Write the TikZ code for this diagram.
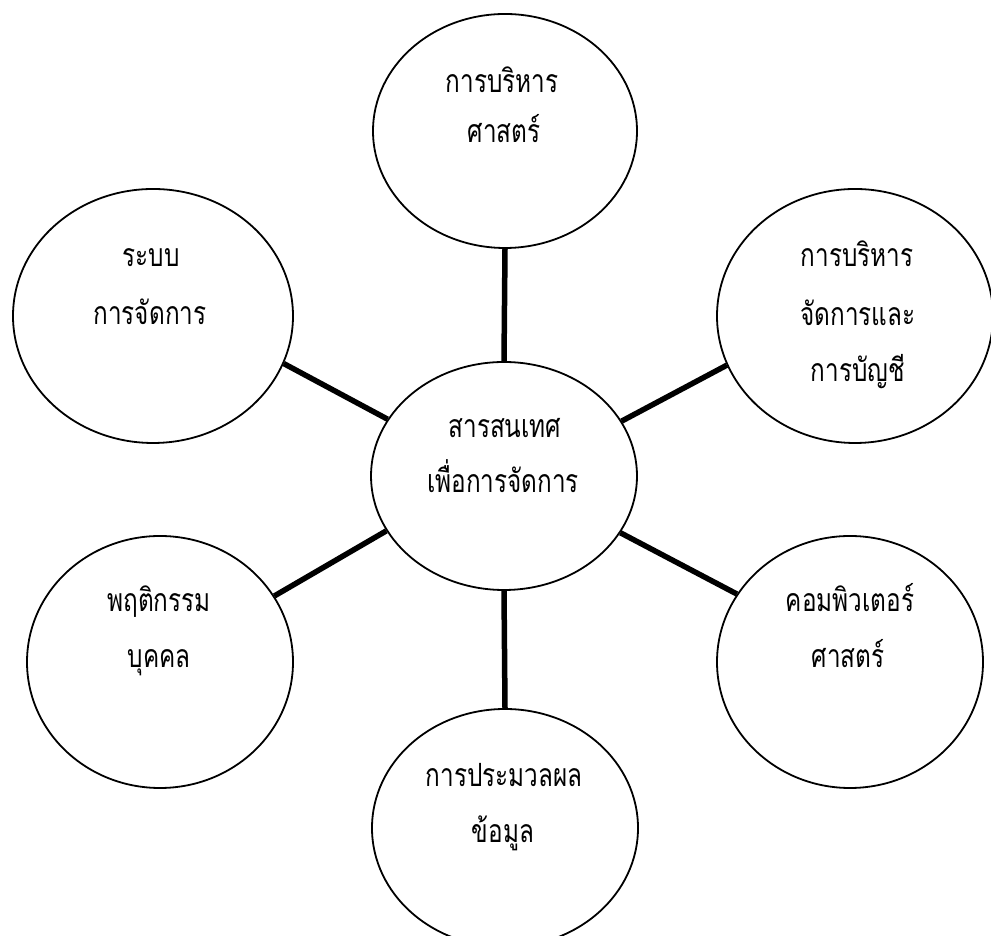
\documentclass[tikz,border=0pt]{standalone}
\usepackage{fontspec}
\newfontfamily\thaifont[Script=Thai,FakeStretch=0.76]{Loma}
\usetikzlibrary{shapes.geometric}
\begin{document}
\begin{tikzpicture}[x=1pt,y=1pt,
  bubble/.style={ellipse,draw=black,line width=1.8pt,inner sep=0pt,fill=white},
  link/.style={line width=5.5pt,black},
  txt/.style={anchor=base,inner sep=0pt,font=\thaifont\fontsize{32}{36}\selectfont}]
\useasboundingbox (0,0) rectangle (991,936);
\fill[white] (0,0) rectangle (991,936);
% ellipses
\node[bubble,minimum width=264pt,minimum height=234pt] (top) at (505,805) {};
\node[bubble,minimum width=266pt,minimum height=228pt] (ctr) at (504,460) {};
\node[bubble,minimum width=280pt,minimum height=254pt] (tl) at (153,620) {};
\node[bubble,minimum width=276pt,minimum height=254pt] (tr) at (855,620) {};
\node[bubble,minimum width=266pt,minimum height=252pt] (bl) at (160,274) {};
\node[bubble,minimum width=266pt,minimum height=252pt] (br) at (850,274) {};
\node[bubble,minimum width=266pt,minimum height=238pt] (bot) at (505,108) {};
% connectors
\draw[link] (top.270) -- (ctr.90);
\draw[link] (bot.90) -- (ctr.270);
\draw[link] (tl.-20.8) -- (ctr.154.2);
\draw[link] (tr.201.9) -- (ctr.25.4);
\draw[link] (bl.30.9) -- (ctr.205.8);
\draw[link] (br.149) -- (ctr.334.6);
% texts
\node[txt] (top1) at (502,843.5) {การบริหาร};
\node[txt] (top2) at (504,793) {ศาสตร์};
\node[txt] (ctr1) at (505,498) {สารสนเทศ};
\node[txt] (ctr2) at (503,443) {เพื่อการจัดการ};
\node[txt] (tl1) at (151,669) {ระบบ};
\node[txt] (tl2) at (150,611) {การจัดการ};
\node[txt] (tr1) at (857,669) {การบริหาร};
\node[txt] (tr2) at (858,610) {จัดการและ};
\node[txt] (tr3) at (858,554) {การบัญชี};
\node[txt] (bl1) at (159,324) {พฤติกรรม};
\node[txt] (bl2) at (159,268) {บุคคล};
\node[txt] (br1) at (850,324) {คอมพิวเตอร์};
\node[txt] (br2) at (848,268) {ศาสตร์};
\node[txt] (bot1) at (504,149) {การประมวลผล};
\node[txt] (bot2) at (503,93) {ข้อมูล};
\end{tikzpicture}
\end{document}
